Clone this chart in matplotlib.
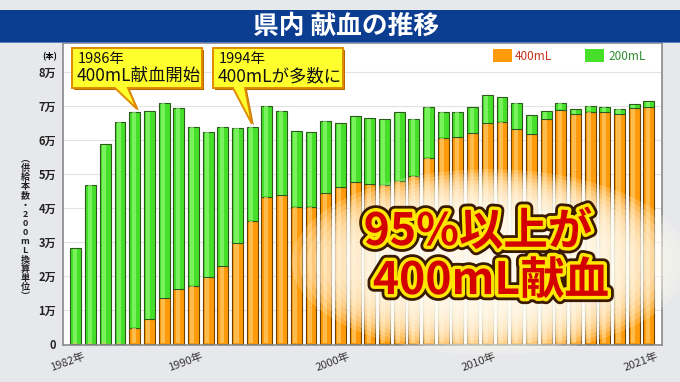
import matplotlib
matplotlib.use("Agg")
import matplotlib.pyplot as plt
import matplotlib.patheffects as pe
from matplotlib.patches import Rectangle, Polygon, Ellipse
import numpy as np

plt.rcParams['font.family'] = ['Noto Sans CJK JP', 'DejaVu Sans']

# data (unit: 万本)
years = np.arange(1982, 2022)
total = [2.81, 4.68, 5.87, 6.54, 6.83, 6.85, 7.10, 6.95, 6.39, 6.24,
         6.39, 6.36, 6.39, 7.00, 6.86, 6.26, 6.23, 6.56, 6.49, 6.69,
         6.64, 6.61, 6.81, 6.62, 6.98, 6.83, 6.83, 6.96, 7.32, 7.25,
         7.10, 6.72, 6.85, 7.10, 6.90, 7.00, 6.98, 6.91, 7.05, 7.13]
ml400 = [0, 0, 0, 0, 0.48, 0.73, 1.34, 1.61, 1.71, 1.96,
         2.29, 2.96, 3.63, 4.33, 4.37, 4.04, 4.04, 4.43, 4.61, 4.75,
         4.70, 4.68, 4.80, 4.94, 5.48, 6.07, 6.08, 6.20, 6.49, 6.54,
         6.31, 6.17, 6.61, 6.88, 6.76, 6.83, 6.82, 6.76, 6.93, 6.96]
ml200 = np.array(total) - np.array(ml400)
ytick_labels = ['0', '1万', '2万', '3万', '4万', '5万', '6万', '7万', '8万']
xlabel_years = [1982, 1990, 2000, 2010, 2021]

W, H = 680, 382
def fx(x):
    return x / W
def fy(y):
    return 1 - y / H

fig = plt.figure(figsize=(6.8, 3.82), dpi=100, facecolor='#e7e8eb')

# title banner
fig.patches.append(Rectangle((0, fy(42)), 1, 32 / H, transform=fig.transFigure,
                             facecolor='#0b3d91', edgecolor='none', zorder=0))
fig.patches.append(Rectangle((0, fy(43)), 1, 1.2 / H, transform=fig.transFigure,
                             facecolor='#5a7fc0', edgecolor='none', zorder=0))
fig.text(fx(346), fy(26.5), '県内 献血の推移', color='white', fontsize=18.5,
         fontweight='bold', ha='center', va='center')

ax = fig.add_axes([fx(63), fy(345), (662 - 63) / W, (345 - 43) / H])
ax.set_facecolor('white')
ax.set_xlim(1981.12, 2021.89)
ax.set_ylim(-0.03, 8.85)
for s in ax.spines.values():
    s.set_color('#8a8a8a')
    s.set_linewidth(1.2)
for v in range(1, 9):
    ax.axhline(v, color='#e3e3e3', lw=0.8, zorder=1)

bw = 0.74
ax.bar(years, ml400, width=bw, color='#ff9a0a', edgecolor='#6e4300', linewidth=0.8, zorder=2)
ax.bar(years, ml200, bottom=ml400, width=bw, color='#46e02a', edgecolor='#2b5a1c',
       linewidth=0.8, zorder=2)
# highlight stripe
ax.bar(years - 0.07, np.array(ml400) - 0.03, bottom=0.015, width=0.28, color='#ffc866',
       alpha=0.75, linewidth=0, zorder=3)
ax.bar(years - 0.07, ml200 - 0.03, bottom=np.array(ml400) + 0.015, width=0.28,
       color='#9cff80', alpha=0.6, linewidth=0, zorder=3)

ax.set_yticks(range(9))
ax.set_yticklabels(ytick_labels, fontsize=8, fontweight='bold', color='#222222')
ax.tick_params(axis='y', length=0, pad=5)
ax.set_xticks([])
for yr in xlabel_years:
    ax.text(yr + 0.48, -0.2, f'{yr}年', rotation=20, ha='right', va='top',
            rotation_mode='anchor', fontsize=8, color='#333333', clip_on=False)

fig.text(fx(50), fy(57), '(本)', fontsize=6, fontweight='bold', ha='center', va='center')
vlabel = '︵供給本数・200mL換算単位︶'
fig.text(fx(25), fy(228), '\n'.join(vlabel), fontsize=6.5, fontweight='bold',
         ha='center', va='center', linespacing=1.02, color='#222222')

# legend
fig.patches.append(Rectangle((fx(493), fy(62)), 19 / W, 13 / H, transform=fig.transFigure,
                             facecolor='#ff9a0a', edgecolor='none', zorder=3))
fig.text(fx(515), fy(56), '400mL', fontsize=8.5, color='#c8321e', va='center', zorder=3)
fig.patches.append(Rectangle((fx(585), fy(62)), 19 / W, 13 / H, transform=fig.transFigure,
                             facecolor='#46e02a', edgecolor='none', zorder=3))
fig.text(fx(608), fy(56), '200mL', fontsize=8.5, color='#2f8f2f', va='center', zorder=3)

# callouts
callouts = [
    ([(72, 48), (202, 48), (202, 88), (128, 88), (137, 109), (115, 88), (72, 88)],
     '1986年', '400mL献血開始'),
    ([(213, 48), (343, 48), (343, 88), (245, 88), (252, 124), (233, 88), (213, 88)],
     '1994年', '400mLが多数に'),
]
for verts, l1, l2 in callouts:
    shadow = [(fx(x + 2), fy(y + 2)) for x, y in verts]
    fig.patches.append(Polygon(shadow, closed=True, transform=fig.transFigure,
                               facecolor='#b86a00', edgecolor='none', zorder=4))
    fig.patches.append(Polygon([(fx(x), fy(y)) for x, y in verts], closed=True,
                               transform=fig.transFigure, facecolor='#ffff2e',
                               edgecolor='#e08a00', linewidth=1.4, zorder=4))
    x0 = verts[0][0]
    fig.text(fx(x0 + 6), fy(59), l1, fontsize=10.5, va='center', color='#111111', zorder=5)
    fig.text(fx(x0 + 5), fy(76), l2, fontsize=12.5, va='center', color='#111111', zorder=5)

# glow behind big text
for i in range(16):
    s = 1.28 - i * 0.05
    fig.patches.append(Ellipse((fx(490), fy(262)), 310 * s / W, 145 * s / H,
                               transform=fig.transFigure, facecolor='#fffdf0',
                               edgecolor='none', alpha=0.2, zorder=6))

effects = [pe.Stroke(linewidth=9, foreground='#3a1a00'),
           pe.Stroke(linewidth=5, foreground='#ffe600'), pe.Normal()]
fig.text(fx(478), fy(232), '95%以上が', fontsize=32, fontweight='bold', color='#d40000',
         ha='center', va='center', path_effects=effects, zorder=7)
fig.text(fx(491), fy(281), '400mL献血', fontsize=32, fontweight='bold', color='#d40000',
         ha='center', va='center', path_effects=effects, zorder=7)

fig.savefig('out.png', dpi=100, facecolor=fig.get_facecolor())
